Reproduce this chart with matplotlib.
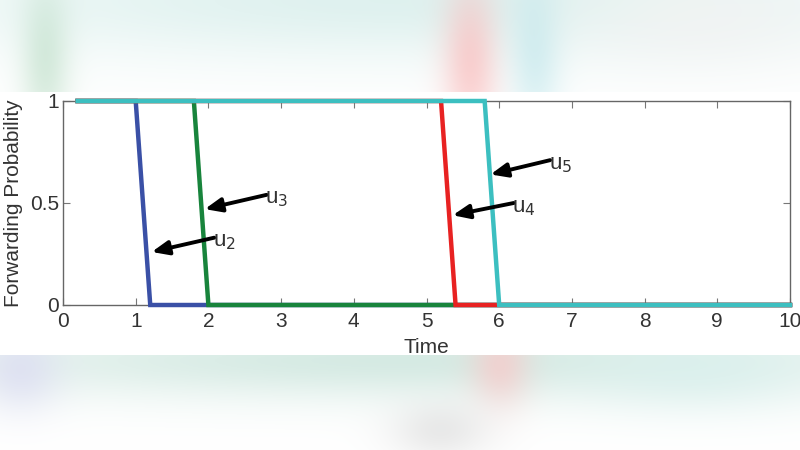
import numpy as np
import matplotlib
matplotlib.use("Agg")
import matplotlib.pyplot as plt

plt.rcParams['font.family'] = ['Liberation Sans', 'DejaVu Sans']

# ---- data ----
t_u2 = [0.2, 1.0, 1.2, 10.0]
p_u2 = [1, 1, 0, 0]
t_u3 = [0.2, 1.8, 2.0, 10.0]
p_u3 = [1, 1, 0, 0]
t_u4 = [0.2, 5.2, 5.4, 10.0]
p_u4 = [1, 1, 0, 0]
t_u5 = [0.2, 5.8, 6.0, 10.0]
p_u5 = [1, 1, 0, 0]
series_names = ["u$_2$", "u$_3$", "u$_4$", "u$_5$"]
colors = ["#3a50a6", "#18843c", "#e82222", "#3cbfc0"]
arrow_tips = [(1.22, 0.26), (1.95, 0.47), (5.36, 0.44), (5.88, 0.64)]
arrow_tails = [(2.08, 0.33), (2.80, 0.54), (6.20, 0.50), (6.70, 0.71)]
xticks = list(range(0, 11))
yticks = [0, 0.5, 1]
ytick_labels = ["0", "0.5", "1"]

W, H = 800, 450
fig = plt.figure(figsize=(8, 4.5), dpi=100)

# ---- decorative blurred background ----
bg = fig.add_axes([0, 0, 1, 1])
bg.set_axis_off()
yy, xx = np.mgrid[0:H, 0:W].astype(float)
img = np.ones((H, W, 3))
def blob(cx, cy, sx, sy, col, a):
    g = a * np.exp(-(((xx - cx) / sx) ** 2 + ((yy - cy) / sy) ** 2))
    for c in range(3):
        img[..., c] = img[..., c] * (1 - g) + col[c] * g
# top band
blob(400, 0, 500, 60, (0.86, 0.94, 0.93), 0.9)
blob(45, 60, 25, 80, (0.74, 0.87, 0.78), 0.6)
blob(470, 60, 28, 80, (0.98, 0.74, 0.74), 0.7)
blob(535, 50, 26, 80, (0.74, 0.90, 0.92), 0.6)
blob(700, 20, 120, 50, (0.95, 0.95, 0.95), 0.7)
# bottom band
blob(400, 360, 500, 40, (0.82, 0.91, 0.88), 0.9)
blob(20, 370, 40, 40, (0.86, 0.86, 0.95), 0.7)
blob(500, 365, 30, 40, (0.98, 0.78, 0.78), 0.7)
blob(440, 430, 50, 30, (0.86, 0.86, 0.86), 0.6)
blob(700, 370, 120, 40, (0.85, 0.94, 0.93), 0.7)
img[92:355] = 1.0
bg.imshow(np.clip(img, 0, 1), extent=[0, 1, 0, 1], aspect='auto', origin='upper')
bg.set_xlim(0, 1); bg.set_ylim(0, 1)

# ---- main chart ----
ax = fig.add_axes([63 / W, 1 - 305 / H, (790 - 63) / W, (305 - 101) / H])
ax.set_facecolor('white')
for t, p, c in zip([t_u2, t_u3, t_u4, t_u5], [p_u2, p_u3, p_u4, p_u5], colors):
    ax.plot(t, p, color=c, lw=3.2, solid_joinstyle='miter', clip_on=False, zorder=3)

for name, tip, tail in zip(series_names, arrow_tips, arrow_tails):
    ax.annotate("", xy=tip, xytext=tail,
                arrowprops=dict(arrowstyle="-|>,head_length=1.0,head_width=0.42",
                                color="black", lw=2.8, shrinkA=0, shrinkB=0), zorder=5)
    ax.text(tail[0] - 0.02, tail[1] - 0.02, name, fontsize=16, color="#333333",
            ha='left', va='center', zorder=5)

ax.set_xlim(0, 10)
ax.set_ylim(0, 1)
ax.set_xticks(xticks)
ax.set_yticks(yticks)
ax.set_yticklabels(ytick_labels)
ax.tick_params(direction='in', length=5, width=0.8, color='#777777',
               labelsize=15, labelcolor='#333333', top=True, right=True, pad=3)
ax.tick_params(axis='x', pad=5)
for s in ax.spines.values():
    s.set_color('#666666')
    s.set_linewidth(1.0)
ax.set_xlabel("Time", fontsize=15, color='#333333', labelpad=5)
ax.set_ylabel("Forwarding Probability", fontsize=15, color='#333333', labelpad=5)

fig.savefig("out.png", dpi=100)
